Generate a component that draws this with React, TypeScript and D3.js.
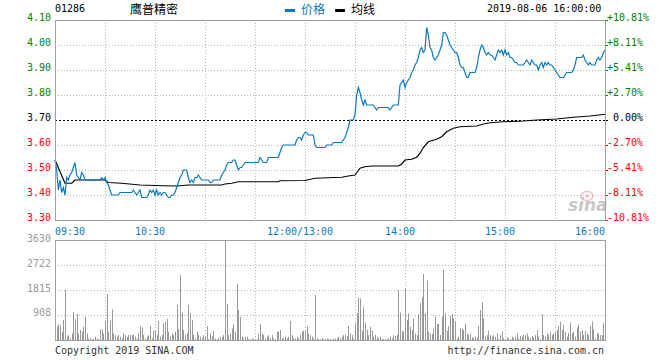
import React from 'react';
import * as d3 from 'd3';

// ---------- data ----------
const CODE = '01286';
const NAME = '鹰普精密';
const DATE_TEXT = '2019-08-06 16:00:00';
const PREV_CLOSE = 3.7;

const TIME_LABELS = ['09:30', '10:30', '12:00/13:00', '14:00', '15:00', '16:00'];
const TIME_LABEL_MIN = [0, 60, 150, 210, 270, 330];
const PRICE_TICKS = [4.1, 4.0, 3.9, 3.8, 3.7, 3.6, 3.5, 3.4, 3.3];
const PRICE_TICK_LABELS = ['4.10', '4.00', '3.90', '3.80', '3.70', '3.60', '3.50', '3.40', '3.30'];
const PCT_LABELS = ['+10.81%', '+8.11%', '+5.41%', '+2.70%', '0.00%', '-2.70%', '-5.41%', '-8.11%', '-10.81%'];
const VOL_TICKS = [3630, 2722, 1815, 908];

// price per minute, minute 0 = 09:30 ... 330 = 16:00 (lunch removed)
const PRICE = [
  3.54, 3.5, 3.42, 3.46, 3.41, 3.43, 3.4, 3.47, 3.46, 3.48, 3.49,
  3.51, 3.53, 3.48, 3.47, 3.46, 3.49, 3.48, 3.46, 3.46, 3.46,
  3.46, 3.46, 3.46, 3.46, 3.46, 3.46, 3.46, 3.47, 3.46, 3.47,
  3.45, 3.44, 3.42, 3.4, 3.4, 3.4, 3.4, 3.4, 3.41, 3.41,
  3.41, 3.41, 3.41, 3.41, 3.41, 3.41, 3.42, 3.41, 3.4, 3.41,
  3.42, 3.39, 3.39, 3.39, 3.39, 3.4, 3.42, 3.41, 3.42, 3.4,
  3.42, 3.4, 3.41, 3.4, 3.41, 3.41, 3.4, 3.39, 3.39, 3.4,
  3.4, 3.41, 3.43, 3.45, 3.47, 3.48, 3.5, 3.5, 3.5, 3.47,
  3.45, 3.46, 3.45, 3.47, 3.47, 3.48, 3.47, 3.46, 3.46, 3.46,
  3.46, 3.46, 3.45, 3.45, 3.46, 3.46, 3.46, 3.46, 3.46, 3.48,
  3.49, 3.5, 3.52, 3.53, 3.53, 3.53, 3.54, 3.54, 3.52, 3.5,
  3.51, 3.51, 3.52, 3.53, 3.53, 3.53, 3.53, 3.53, 3.53, 3.53,
  3.53, 3.53, 3.55, 3.54, 3.53, 3.53, 3.53, 3.55, 3.55, 3.55,
  3.55, 3.55, 3.55, 3.55, 3.57, 3.59, 3.6, 3.6, 3.6, 3.6,
  3.6, 3.6, 3.6, 3.6, 3.62, 3.63, 3.63, 3.62, 3.64, 3.65,
  3.65, 3.64, 3.64, 3.64, 3.64, 3.6, 3.59, 3.59, 3.59, 3.59,
  3.59, 3.59, 3.6, 3.6, 3.6, 3.6, 3.61, 3.61, 3.61, 3.61,
  3.61, 3.61, 3.62, 3.63, 3.65, 3.67, 3.7, 3.7, 3.7, 3.72,
  3.8, 3.83, 3.81, 3.78, 3.76, 3.78, 3.76, 3.76, 3.76, 3.76,
  3.76, 3.75, 3.74, 3.75, 3.75, 3.75, 3.75, 3.75, 3.75, 3.75,
  3.74, 3.75, 3.76, 3.76, 3.76, 3.76, 3.84, 3.85, 3.86, 3.83,
  3.85, 3.86, 3.87, 3.89, 3.9, 3.92, 3.93, 3.95, 3.98, 3.99,
  3.97, 3.98, 4.07, 4.04, 3.99, 3.98, 3.95, 3.94, 3.95, 3.96,
  3.98, 4.0, 4.05, 4.05, 4.04, 4.02, 4.0, 3.99, 3.98, 3.97,
  3.97, 3.95, 3.92, 3.91, 3.91, 3.89, 3.87, 3.87, 3.89, 3.89,
  3.89, 3.89, 3.91, 3.95, 3.98, 4.0, 3.99, 3.97, 3.96, 3.97,
  3.96, 3.96, 3.95, 3.94, 3.96, 3.98, 3.97, 3.98, 3.96, 3.98,
  3.96, 3.97, 3.95, 3.95, 3.94, 3.93, 3.93, 3.92, 3.92, 3.92,
  3.92, 3.93, 3.94, 3.93, 3.92, 3.94, 3.93, 3.92, 3.92, 3.9,
  3.92, 3.93, 3.91, 3.93, 3.92, 3.93, 3.92, 3.92, 3.91, 3.9,
  3.89, 3.88, 3.87, 3.87, 3.87, 3.88, 3.89, 3.89, 3.89, 3.89,
  3.9, 3.92, 3.95, 3.95, 3.95, 3.95, 3.96, 3.94, 3.93, 3.92,
  3.93, 3.92, 3.92, 3.92, 3.94, 3.95, 3.94, 3.95, 3.97, 3.98,
];

// average price line: [minute, value]
const AVG: [number, number][] = [
  [0, 3.54], [6, 3.447], [10, 3.447], [12, 3.46], [30, 3.46], [32, 3.45], [40, 3.447],
  [51, 3.44], [65, 3.437], [73, 3.436], [80, 3.44], [100, 3.44], [102, 3.444], [106, 3.447],
  [110, 3.453], [134, 3.453], [135, 3.457], [150, 3.458], [156, 3.467], [172, 3.471],
  [176, 3.476], [180, 3.48], [183, 3.507], [186, 3.513], [190, 3.516], [206, 3.516],
  [208, 3.524], [210, 3.54], [214, 3.543], [217, 3.551], [219, 3.567], [221, 3.59],
  [224, 3.613], [229, 3.623], [232, 3.633], [235, 3.653], [239, 3.667], [243, 3.673],
  [253, 3.676], [257, 3.684], [261, 3.689], [269, 3.693], [281, 3.696], [289, 3.7],
  [301, 3.704], [311, 3.711], [321, 3.716], [330, 3.723],
];

// volume per minute
const VOLUME = [
  300, 484, 580, 540, 300, 726, 1815, 120, 180, 60,
  240, 1016, 760, 944, 240, 360, 300, 480, 847, 240,
  60, 60, 30, 30, 120, 60, 30, 387, 387, 240,
  665, 1670, 300, 726, 1113, 240, 180, 120, 180, 120,
  60, 240, 180, 120, 180, 180, 180, 180, 120, 60,
  240, 508, 460, 180, 60, 120, 180, 508, 60, 339,
  339, 180, 690, 120, 180, 605, 665, 760, 300, 120,
  240, 180, 300, 1270, 400, 2360, 992, 360, 180, 240,
  1270, 968, 726, 180, 60, 300, 180, 120, 60, 180,
  120, 508, 30, 240, 120, 327, 60, 30, 60, 120,
  120, 180, 3630, 1307, 180, 240, 420, 580, 300, 2033,
  1089,
  847, 120, 60, 120, 120, 30, 30, 60, 30, 30,
  30, 240, 580, 240, 180, 30, 120, 180, 60, 180,
  60, 30, 300, 300, 360, 60, 60, 120, 60, 120,
  690, 180, 60, 60, 120, 60, 180, 300, 339, 360,
  508, 240, 180, 120, 60, 1633, 60, 30, 30, 60,
  30, 30, 60, 30, 30, 30, 30, 60, 60, 120,
  60, 120, 180, 180, 145, 508, 240, 180, 60, 630,
  968, 1549, 1512, 339, 1210, 630, 363, 180, 484, 339,
  120, 180, 96, 60, 120, 30, 30, 30, 30, 60,
  120, 60, 180, 145, 180, 1815, 992, 339, 300, 1875,
  726, 968, 484, 363, 786, 240, 180, 944, 1331, 1549,
  2396, 968, 2154, 300, 240, 218, 420, 847, 580, 580,
  180, 847, 2541, 968, 339, 508, 870, 944, 787, 665,
  60, 120, 420, 420, 363, 605, 240, 180, 240, 96,
  60, 120, 96, 508, 1089, 1367, 787, 120, 180, 339,
  180, 120, 180, 120, 240, 30, 180, 300, 60, 30,
  96, 60, 30, 120, 60, 120, 240, 60, 145, 120,
  180, 180, 240, 120, 60, 145, 96, 180, 363, 120,
  30, 944, 180, 120, 240, 180, 300, 180, 240, 300,
  363, 508, 665, 363, 545, 300, 120, 266, 630, 240,
  300, 120, 460, 545, 300, 363, 180, 339, 240, 180,
  508, 665, 387, 60, 240, 240, 180, 180, 605, 1270,
];

// ---------- styling ----------
const MONO = '"DejaVu Sans Mono", "Liberation Mono", monospace';
const CJK = '"Noto Sans CJK SC", "Noto Sans", sans-serif';
const BLUE = '#0a78c8';
const GREEN = '#008000';
const RED = '#ff0000';
const GRID = '#b4b4b4';
const FRAME = '#a0a0a0';

export default function App() {
  const W = 660;
  const H = 360;
  const L = 55;
  const R = 605;
  const x = d3.scaleLinear().domain([0, 330]).range([L, R]);
  const y = d3.scaleLinear().domain([3.3, 4.1]).range([220, 20]);
  const yv = d3.scaleLinear().domain([0, 3630]).range([340, 240]);

  const priceLine = d3
    .line<number>()
    .x((_, i) => x(i))
    .y((d) => y(d))(PRICE) as string;
  const avgLine = d3
    .line<[number, number]>()
    .x((d) => x(d[0]))
    .y((d) => y(d[1]))(AVG) as string;

  const gridMinutes = d3.range(30, 330, 30);
  const colorFor = (v: number) =>
    Math.abs(v - PREV_CLOSE) < 1e-6 ? '#000' : v > PREV_CLOSE ? GREEN : RED;

  return (
    <svg
      width={W}
      height={H}
      viewBox={`0 0 ${W} ${H}`}
      style={{ position: 'absolute', left: 0, top: 0, background: '#fff' }}
    >
      <rect x={0} y={0} width={W} height={H} fill="#fff" />

      {/* header */}
      <text x={55} y={12} fontFamily={MONO} fontSize={10} fill="#000">
        {CODE}
      </text>
      <text x={130} y={13.5} fontFamily={CJK} fontSize={12} fill="#000">
        {NAME}
      </text>
      <rect x={285} y={9} width={10} height={3} fill={BLUE} />
      <text x={301} y={14} fontFamily={CJK} fontSize={12} fill={BLUE}>
        价格
      </text>
      <rect x={335} y={9} width={10} height={3} fill="#000" />
      <text x={351} y={14} fontFamily={CJK} fontSize={12} fill="#000">
        均线
      </text>
      <text x={487} y={12} fontFamily={MONO} fontSize={10} fill="#000">
        {DATE_TEXT}
      </text>

      {/* price grid */}
      {PRICE_TICKS.slice(1, -1).map((v) =>
        Math.abs(v - PREV_CLOSE) < 1e-6 ? null : (
          <line
            key={'hg' + v}
            x1={L}
            x2={R}
            y1={Math.round(y(v)) + 0.5}
            y2={Math.round(y(v)) + 0.5}
            stroke={GRID}
            strokeDasharray="1,2"
          />
        )
      )}
      {gridMinutes.map((m) => (
        <line
          key={'vg' + m}
          x1={Math.round(x(m)) + 0.5}
          x2={Math.round(x(m)) + 0.5}
          y1={20}
          y2={220}
          stroke={GRID}
          strokeDasharray="1,2"
        />
      ))}

      {/* watermark */}
      <g opacity={0.55}>
        <ellipse cx={587} cy={196} rx={6} ry={4.5} fill="none" stroke="#f08a8a" strokeWidth={1.5} />
        <circle cx={587} cy={196} r={1.8} fill="#f08a8a" />
        <text
          x={568}
          y={211}
          fontFamily='"DejaVu Sans", sans-serif'
          fontWeight="bold"
          fontStyle="italic"
          fontSize={17}
          fill="#9a9a9a"
        >
          sina
        </text>
      </g>

      {/* previous close dashed line */}
      <line
        x1={L}
        x2={R}
        y1={Math.round(y(PREV_CLOSE)) + 0.5}
        y2={Math.round(y(PREV_CLOSE)) + 0.5}
        stroke="#000"
        strokeDasharray="2,2"
      />

      {/* avg and price lines */}
      <path d={avgLine} fill="none" stroke="#000" strokeWidth={1.2} />
      <path d={priceLine} fill="none" stroke={BLUE} strokeWidth={1.2} />

      {/* price frame */}
      <rect x={L + 0.5} y={20.5} width={R - L} height={200} fill="none" stroke={FRAME} />

      {/* left price labels */}
      {PRICE_TICKS.map((v, i) => (
        <text
          key={'pl' + i}
          x={51}
          y={y(v) + 1}
          textAnchor="end"
          fontFamily={MONO}
          fontSize={10}
          fill={colorFor(v)}
        >
          {PRICE_TICK_LABELS[i]}
        </text>
      ))}
      {/* right percent labels and ticks */}
      {PRICE_TICKS.map((v, i) => (
        <g key={'pr' + i}>
          <rect x={606} y={Math.round(y(v))} width={2} height={1} fill={colorFor(v)} />
          <text
            x={PCT_LABELS[i].startsWith('+') || PCT_LABELS[i].startsWith('-') ? 607 : 613}
            y={y(v) + 1}
            fontFamily={MONO}
            fontSize={10}
            fill={colorFor(v)}
          >
            {PCT_LABELS[i]}
          </text>
        </g>
      ))}

      {/* time labels */}
      {TIME_LABELS.map((t, i) => {
        const m = TIME_LABEL_MIN[i];
        const last = i === TIME_LABELS.length - 1;
        const first = i === 0;
        return (
          <text
            key={'tl' + i}
            x={first ? x(m) : last ? x(m) : x(m) - 5}
            y={235}
            textAnchor={first ? 'start' : last ? 'end' : 'middle'}
            fontFamily={MONO}
            fontSize={10}
            fill={BLUE}
          >
            {t}
          </text>
        );
      })}

      {/* volume grid */}
      {VOL_TICKS.slice(1).map((v) => (
        <line
          key={'vhg' + v}
          x1={L}
          x2={R}
          y1={Math.round(yv(v)) + 0.5}
          y2={Math.round(yv(v)) + 0.5}
          stroke={GRID}
          strokeDasharray="1,2"
        />
      ))}
      {gridMinutes.map((m) => (
        <line
          key={'vvg' + m}
          x1={Math.round(x(m)) + 0.5}
          x2={Math.round(x(m)) + 0.5}
          y1={240}
          y2={340}
          stroke={GRID}
          strokeDasharray="1,2"
        />
      ))}

      {/* volume bars */}
      {VOLUME.map((v, i) => {
        const bx = Math.round(x(i));
        const top = yv(v);
        return (
          <rect key={'vb' + i} x={bx} y={top} width={1} height={340 - top} fill="#999" />
        );
      })}

      {/* volume frame */}
      <rect x={L + 0.5} y={240.5} width={R - L} height={100} fill="none" stroke={FRAME} />

      {/* volume labels */}
      {VOL_TICKS.map((v) => (
        <text
          key={'vl' + v}
          x={51}
          y={yv(v) + 1.5}
          textAnchor="end"
          fontFamily={MONO}
          fontSize={10}
          fill="#999"
        >
          {v}
        </text>
      ))}

      {/* footer */}
      <text x={55} y={354} fontFamily={MONO} fontSize={10} fill="#333">
        Copyright 2019 SINA.COM
      </text>
      <text x={604} y={354} textAnchor="end" fontFamily={MONO} fontSize={10} fill="#333">
        http://finance.sina.com.cn
      </text>
    </svg>
  );
}
